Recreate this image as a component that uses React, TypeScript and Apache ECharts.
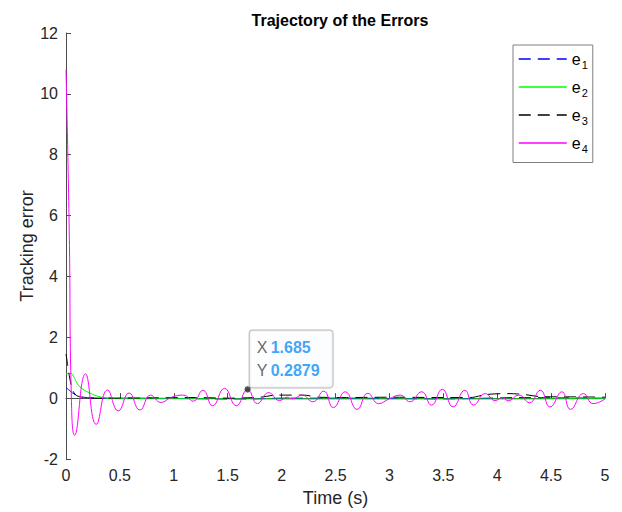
import React, { useEffect, useRef } from "react";
import * as echarts from "echarts";

const seriesNames = ["e1", "e2", "e3", "e4"];
const seriesColors = ["#0000ff", "#00ff00", "#000000", "#ff00ff"];

const e1: [number, number][] = [
  [0, 0.35], [0.03, 0.26], [0.06, 0.17], [0.1, 0.09], [0.15, 0.04], [0.2, 0.015], [0.3, 0.0],
  [0.6, 0.0], [1.0, -0.01], [1.5, -0.03], [1.7, -0.03], [2.0, 0.0], [2.5, 0.0], [3.0, -0.01],
  [3.5, -0.03], [3.8, -0.01], [4.2, 0.02], [4.6, 0.01], [5.0, 0.0],
];

const e2: [number, number][] = [
  [0, 0.79], [0.03, 0.82], [0.055, 0.8], [0.08, 0.65], [0.1, 0.5], [0.13, 0.37], [0.17, 0.26],
  [0.22, 0.17], [0.27, 0.09], [0.32, 0.04], [0.38, 0.0], [0.5, -0.02], [1.0, -0.02], [2.0, -0.03],
  [3.0, -0.03], [4.0, -0.03], [5.0, -0.02],
];

const e3: [number, number][] = [
  [0, 1.45], [0.015, 1.1], [0.03, 0.75], [0.05, 0.4], [0.07, 0.2], [0.1, 0.08], [0.15, 0.03],
  [0.2, 0.01], [0.3, 0.0], [0.8, 0.01], [1.2, 0.02], [1.5, 0.0], [1.8, 0.03], [1.95, 0.1],
  [2.2, 0.1], [2.35, 0.03], [2.6, 0.02], [3.0, 0.03], [3.5, 0.02], [3.75, 0.02], [3.9, 0.12],
  [4.1, 0.15], [4.25, 0.12], [4.4, 0.05], [4.8, 0.04], [5.0, 0.03],
];

const e4: [number, number][] = [
  [0, 10.8], [0.03, 5.5], [0.05, 0.0], [0.08, -1.22], [0.18, 0.8], [0.28, -0.86], [0.385, 0.27],
  [0.485, -0.42], [0.585, 0.17], [0.685, -0.39], [0.785, 0.1], [0.88, -0.14], [0.98, 0.03],
  [1.09, 0.1], [1.18, -0.1], [1.27, 0.26], [1.36, -0.25], [1.47, 0.32], [1.58, -0.25],
  [1.685, 0.2879], [1.775, -0.18], [1.88, 0.18], [1.98, -0.08], [2.05, 0.03], [2.1, -0.02],
  [2.19, 0.1], [2.29, -0.12], [2.39, 0.23], [2.48, -0.31], [2.59, 0.21], [2.7, -0.37],
  [2.8, 0.16], [2.9, -0.18], [3.0, -0.02], [3.1, 0.1], [3.19, -0.12], [3.3, 0.21], [3.39, -0.23],
  [3.49, 0.29], [3.59, -0.29], [3.7, 0.26], [3.78, -0.23], [3.89, 0.15], [3.98, -0.08],
  [4.05, 0.02], [4.1, -0.09], [4.2, 0.1], [4.3, -0.15], [4.4, 0.26], [4.49, -0.29], [4.6, 0.21],
  [4.68, -0.37], [4.8, 0.15], [4.89, -0.18], [5.0, -0.03],
];

const seriesData = [e1, e2, e3, e4];
const seriesDashed = [true, false, true, false];

const datatip: [number, number] = [1.685, 0.2879];

const FONT = "'Liberation Sans', Arial, sans-serif";

export default function App() {
  const ref = useRef<HTMLDivElement>(null);
  useEffect(() => {
    const chart = echarts.init(ref.current!, undefined, { renderer: "svg" });
    const lines = seriesNames.map((name, i) => ({
      name,
      type: "line",
      data: seriesData[i],
      symbol: "none",
      smooth: i === 3 ? 0.5 : 0.3,
      z: 2 + i,
      lineStyle: {
        color: seriesColors[i],
        width: 1,
        type: seriesDashed[i] ? [12, 7] : "solid",
      },
      itemStyle: { color: seriesColors[i] },
    }));
    chart.setOption({
      animation: false,
      textStyle: { fontFamily: FONT },
      title: {
        text: "Trajectory of the Errors",
        left: 335,
        textAlign: "center",
        top: 7,
        textStyle: { fontSize: 16, fontWeight: "bold", color: "#000", fontFamily: FONT },
      },
      grid: { left: 66, right: 17, top: 33, bottom: 53 },
      legend: {
        data: seriesNames.map((name, i) => ({
          name,
          itemStyle: { opacity: 0 },
          lineStyle: {
            color: seriesColors[i],
            width: 1.5,
            type: seriesDashed[i] ? [12, 7] : "solid",
            opacity: 1,
          },
        })),
        orient: "vertical",
        left: 513,
        top: 45,
        padding: [6, 5, 8, 5],
        itemGap: 8.5,
        itemWidth: 48,
        itemHeight: 14,
        borderColor: "#808080",
        borderWidth: 1,
        backgroundColor: "#fff",
        formatter: (name: string) => `{b|e}{s|${name.slice(1)}}`,
        textStyle: {
          rich: {
            b: { fontSize: 16, color: "#000", fontFamily: FONT },
            s: { fontSize: 11, color: "#000", fontFamily: FONT, padding: [12, 0, 0, 1] },
          },
        },
      },
      xAxis: {
        type: "value",
        min: 0,
        max: 5,
        interval: 0.5,
        name: "Time (s)",
        nameLocation: "middle",
        nameGap: 30,
        nameMoveOverlap: false,
        nameTextStyle: { fontSize: 18, color: "#262626", fontFamily: FONT },
        axisLine: { lineStyle: { color: "#4d4d4d" } },
        axisTick: { inside: true, length: 5, lineStyle: { color: "#4d4d4d" } },
        axisLabel: { fontSize: 16, color: "#262626", margin: 8, fontFamily: FONT },
        splitLine: { show: false },
      },
      yAxis: {
        type: "value",
        min: -2,
        max: 12,
        interval: 2,
        name: "Tracking error",
        nameLocation: "middle",
        nameGap: 30,
        nameMoveOverlap: false,
        nameTextStyle: { fontSize: 18, color: "#262626", fontFamily: FONT },
        axisLine: { show: true, lineStyle: { color: "#4d4d4d" } },
        axisTick: { show: true, inside: true, length: 5, lineStyle: { color: "#4d4d4d" } },
        axisLabel: { fontSize: 16, color: "#262626", margin: 8, fontFamily: FONT },
        splitLine: { show: false },
      },
      series: [
        ...lines,
        {
          name: "datatip",
          type: "scatter",
          data: [datatip],
          symbolSize: 7,
          z: 10,
          itemStyle: { color: "#262626", borderColor: "#fff", borderWidth: 1 },
          label: {
            show: true,
            position: [6, -55],
            formatter: () =>
              `{k|X} {v|${datatip[0]}}\n{k|Y} {v|${datatip[1]}}`,
            backgroundColor: "#fafcff",
            borderColor: "#a6a6a6",
            borderWidth: 1,
            borderRadius: 3,
            padding: [6, 13, 5, 7],
            rich: {
              k: { fontSize: 16, color: "#404040", lineHeight: 23, fontFamily: FONT },
              v: { fontSize: 16, color: "#0e8ef5", fontWeight: "bold", lineHeight: 23, fontFamily: FONT },
            },
          },
        },
      ],
    });
    return () => chart.dispose();
  }, []);
  return (
    <div
      ref={ref}
      style={{ position: "absolute", left: 0, top: 0, width: 622, height: 512, background: "#fff" }}
    />
  );
}
